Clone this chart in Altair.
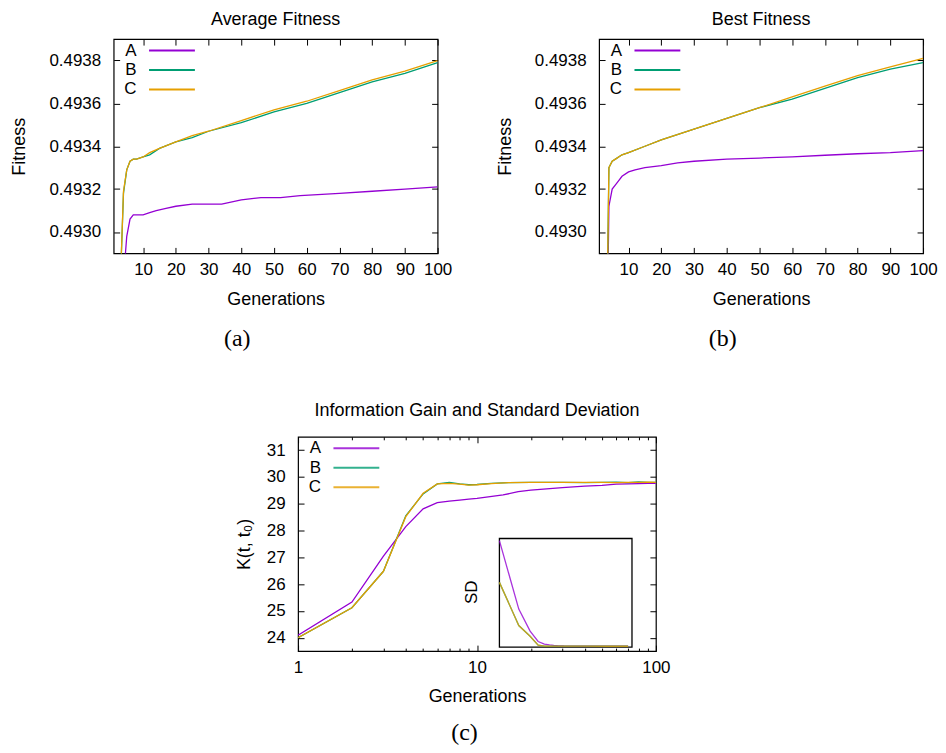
import altair as alt
import pandas as pd

FONT = "Liberation Sans"
SERIF = "Liberation Serif"
SERIES = ["A", "B", "C"]
COLORS = ["#9400d3", "#009e73", "#e69f00"]

# ---------------- (a) Average Fitness ----------------
avg_gen_A = [4, 5, 6, 7, 8, 10, 12, 14, 17, 20, 25, 30, 34, 40, 46, 52, 58, 70, 80, 90, 100]
avg_fit_A = [0.49278, 0.49298, 0.49306, 0.49308, 0.49308, 0.49308, 0.49309, 0.49310, 0.49311,
             0.49312, 0.49313, 0.49313, 0.49313, 0.49315, 0.49316, 0.49316, 0.49317, 0.49318,
             0.49319, 0.49320, 0.49321]
avg_gen_BC = [3, 4, 5, 6, 7, 8, 10, 12, 15, 20, 25, 30, 40, 50, 60, 70, 80, 90, 100]
avg_fit_B = [0.49274, 0.49318, 0.49329, 0.49333, 0.49334, 0.49334, 0.49335, 0.49336, 0.49339,
             0.49342, 0.49344, 0.49347, 0.49351, 0.49356, 0.49360, 0.49365, 0.49370, 0.49374,
             0.49379]
avg_fit_C = [0.49274, 0.49319, 0.49329, 0.49333, 0.49334, 0.49334, 0.49335, 0.49337, 0.49339,
             0.49342, 0.49345, 0.49347, 0.49352, 0.49357, 0.49361, 0.49366, 0.49371, 0.49375,
             0.49380]

# ---------------- (b) Best Fitness ----------------
best_gen_A = [3, 4, 5, 6, 7, 8, 10, 12, 15, 20, 25, 30, 40, 50, 60, 70, 80, 90, 100]
best_fit_A = [0.49200, 0.49312, 0.49320, 0.49322, 0.49324, 0.49326, 0.49328, 0.49329, 0.49330,
              0.49331, 0.493322, 0.49333, 0.49334, 0.493345, 0.49335, 0.493358, 0.493365, 0.49337,
              0.49338]
best_gen_BC = [3, 4, 5, 6, 8, 10, 15, 20, 30, 40, 50, 60, 70, 80, 90, 100]
best_fit_B = [0.49216, 0.49330, 0.49333, 0.49334, 0.49336, 0.49337, 0.49340, 0.49343, 0.49348,
              0.49353, 0.49358, 0.49362, 0.49367, 0.49372, 0.49376, 0.49379]
best_fit_C = [0.49216, 0.49330, 0.49333, 0.49334, 0.49336, 0.49337, 0.49340, 0.49343, 0.49348,
              0.49353, 0.49358, 0.49363, 0.49368, 0.49373, 0.49377, 0.49381]

# ---------------- (c) Information gain K(t, t0) ----------------
kl_gen_A = [1, 2, 3, 4, 5, 6, 7, 8, 9, 10, 14, 17, 20, 30, 40, 50, 60, 70, 80, 90, 100]
kl_A = [24.09, 25.33, 27.05, 28.15, 28.81, 29.04, 29.10, 29.14, 29.17, 29.20, 29.33, 29.45,
        29.51, 29.60, 29.66, 29.69, 29.73, 29.74, 29.75, 29.76, 29.76]
kl_gen_BC = [1, 2, 3, 4, 5, 6, 7, 8, 9, 10, 12, 15, 20, 30, 40, 50, 60, 70, 80, 90, 100]
kl_B = [24.00, 25.12, 26.48, 28.55, 29.37, 29.74, 29.80, 29.74, 29.71, 29.72, 29.76, 29.79,
        29.80, 29.80, 29.79, 29.80, 29.81, 29.79, 29.82, 29.80, 29.80]
kl_C = [24.00, 25.12, 26.48, 28.52, 29.39, 29.74, 29.76, 29.73, 29.70, 29.71, 29.75, 29.79,
        29.80, 29.80, 29.80, 29.80, 29.79, 29.80, 29.80, 29.81, 29.80]

# inset: standard deviation (relative units, no tick labels in the original)
sd_gen_A = [1, 2, 3, 4, 5, 6, 7, 8, 10, 20, 50, 100]
sd_A = [0.98, 0.35, 0.147, 0.052, 0.028, 0.020, 0.016, 0.014, 0.012, 0.010, 0.009, 0.009]
sd_gen_BC = [1, 2, 3, 4, 5, 6, 8, 10, 20, 50, 100]
sd_B = [0.596, 0.199, 0.100, 0.018, 0.010, 0.009, 0.009, 0.009, 0.009, 0.008, 0.008]
sd_C = [0.596, 0.199, 0.100, 0.018, 0.010, 0.009, 0.009, 0.009, 0.009, 0.008, 0.008]
sd_x_domain = [1, 115]
sd_y_domain = [0, 1]

fit_x_ticks = [10, 20, 30, 40, 50, 60, 70, 80, 90, 100]
fit_y_ticks = [0.4930, 0.4932, 0.4934, 0.4936, 0.4938]
kl_x_major = [1, 10, 100]
kl_x_minor = [2, 3, 4, 5, 6, 7, 8, 9, 20, 30, 40, 50, 60, 70, 80, 90]
kl_y_ticks = [24, 25, 26, 27, 28, 29, 30, 31]


def tidy(gens, vals):
    rows = []
    for s, g, v in zip(SERIES, gens, vals):
        for gi, vi in zip(g, v):
            rows.append({"series": s, "gen": gi, "val": vi})
    return pd.DataFrame(rows)


def axis(orient, values, tick=6, labels=True, title=None, fmt=None, pad=8, tpad=13):
    kw = dict(orient=orient, values=values, offset=-tick, tickSize=tick, tickColor="black",
              tickWidth=1, domain=False, grid=False, labels=labels, labelPadding=pad,
              labelOverlap=False, labelFlush=False, title=title, titlePadding=tpad)
    if fmt:
        kw["format"] = fmt
    return alt.Axis(**kw)


def legend():
    # a wide, flat custom stroke symbol keeps each legend row as tall as its label
    return alt.Legend(orient="none", legendX=50, legendY=3, title=None, direction="vertical",
                      symbolType="M-4.6,0H4.6", symbolSize=100, symbolStrokeWidth=2,
                      labelFont=FONT, labelFontSize=17, labelColor="black",
                      labelAlign="right", labelOffset={"expr": "-44"},
                      rowPadding=1.5, padding=0)


color = alt.Color("series:N", scale=alt.Scale(domain=SERIES, range=COLORS), legend=legend())


def caption(text, x, y):
    return alt.Chart(pd.DataFrame({"cap": [text]})).mark_text(
        font=SERIF, fontSize=24, align="center", baseline="alphabetic", color="black"
    ).encode(text="cap:N", x=alt.value(x), y=alt.value(y))


def title(text, offset):
    return alt.Title(text, anchor="middle", frame="group", offset=offset, font=FONT,
                     fontSize=18, fontWeight="normal", color="black")


def fitness_panel(df, ttl, cap):
    xs = alt.Scale(domain=[1, 100], nice=False, zero=False)
    ys = alt.Scale(domain=[0.4929, 0.4939], nice=False, zero=False)
    base = alt.Chart(df)
    main = base.mark_line(clip=True, strokeWidth=1.3).encode(
        x=alt.X("gen:Q", scale=xs, axis=axis("bottom", fit_x_ticks, title="Generations", fmt="d")),
        y=alt.Y("val:Q", scale=ys, axis=axis("left", fit_y_ticks, title="Fitness", fmt=".4f", pad=13, tpad=20)),
        color=color,
    )
    mirror = base.mark_line(clip=True, opacity=0).encode(
        x=alt.X("gen:Q", scale=xs, axis=axis("top", fit_x_ticks, labels=False)),
        y=alt.Y("val:Q", scale=ys, axis=axis("right", fit_y_ticks, labels=False)),
    )
    return alt.layer(main, mirror, caption(cap, 124, 308)).resolve_axis(
        x="independent", y="independent"
    ).properties(width=325, height=215, title=title(ttl, 10))


panel_a = fitness_panel(tidy([avg_gen_A, avg_gen_BC, avg_gen_BC], [avg_fit_A, avg_fit_B, avg_fit_C]),
                        "Average Fitness", "(a)")
panel_b = fitness_panel(tidy([best_gen_A, best_gen_BC, best_gen_BC], [best_fit_A, best_fit_B, best_fit_C]),
                        "Best Fitness", "(b)")

# ---------------- panel (c) ----------------
kl_df = tidy([kl_gen_A, kl_gen_BC, kl_gen_BC], [kl_A, kl_B, kl_C])
sd_df = tidy([sd_gen_A, sd_gen_BC, sd_gen_BC], [sd_A, sd_B, sd_C])

kx = alt.Scale(type="log", domain=[1, 100], nice=False)
ky = alt.Scale(domain=[23.5, 31.5], nice=False, zero=False)
kbase = alt.Chart(kl_df)
k_main = kbase.mark_line(clip=True, strokeWidth=1.3).encode(
    x=alt.X("gen:Q", scale=kx, axis=axis("bottom", kl_x_major, title="Generations", fmt="d")),
    y=alt.Y("val:Q", scale=ky, axis=axis("left", kl_y_ticks, title="K(t, t₀)", fmt="d", pad=13, tpad=13)),
    color=color,
)
k_minor_b = kbase.mark_line(clip=True, opacity=0).encode(
    x=alt.X("gen:Q", scale=kx, axis=axis("bottom", kl_x_minor, tick=3, labels=False)),
    y=alt.Y("val:Q", scale=ky, axis=None),
)
k_top = kbase.mark_line(clip=True, opacity=0).encode(
    x=alt.X("gen:Q", scale=kx, axis=axis("top", kl_x_major, labels=False)),
    y=alt.Y("val:Q", scale=ky, axis=axis("right", kl_y_ticks, labels=False)),
)
k_minor_t = kbase.mark_line(clip=True, opacity=0).encode(
    x=alt.X("gen:Q", scale=kx, axis=axis("top", kl_x_minor, tick=3, labels=False)),
    y=alt.Y("val:Q", scale=ky, axis=None),
)

ix = alt.Scale(type="log", domain=sd_x_domain, range=[202, 335], nice=False)
iy = alt.Scale(domain=sd_y_domain, range=[211, 102], nice=False, zero=False)
inset_box = alt.Chart(pd.DataFrame({"x0": [sd_x_domain[0]], "x1": [sd_x_domain[1]],
                                    "y0": [sd_y_domain[0]], "y1": [sd_y_domain[1]]})).mark_rect(
    fill="white", stroke="black", strokeWidth=1.3
).encode(
    x=alt.X("x0:Q", scale=ix, axis=None), x2="x1:Q",
    y=alt.Y("y0:Q", scale=iy, axis=None), y2="y1:Q",
)
inset_lines = alt.Chart(sd_df).mark_line(strokeWidth=1.3, opacity=0.8).encode(
    x=alt.X("gen:Q", scale=ix, axis=None),
    y=alt.Y("val:Q", scale=iy, axis=None),
    color=color,
)
sd_label = alt.Chart(pd.DataFrame({"t": ["SD"]})).mark_text(
    font=FONT, fontSize=17, angle=270, align="center", baseline="middle", color="black"
).encode(text="t:N", x=alt.value(175), y=alt.value(156))

panel_c = alt.layer(
    k_main, k_minor_b, k_top, k_minor_t, inset_box, inset_lines, sd_label, caption("(c)", 167, 304)
).resolve_scale(x="independent", y="independent").resolve_axis(
    x="independent", y="independent"
).properties(width=359, height=215, title=title("Information Gain and Standard Deviation", 16))

spacer = alt.Chart(pd.DataFrame({"s": [0]})).mark_point(opacity=0).properties(
    width=185, height=10, view=alt.ViewBackground(stroke="transparent")
)

top = alt.hconcat(panel_a, panel_b, spacing=162, bounds="flush").resolve_scale(color="independent")
bottom = alt.hconcat(spacer, panel_c, spacing=0, bounds="flush").resolve_scale(color="independent")

chart = alt.vconcat(top, bottom, spacing=49, bounds="full").resolve_scale(
    color="independent"
).properties(
    padding={"left": 2, "top": 0, "right": 0, "bottom": 0}, background="white"
).configure_view(
    stroke="black", strokeWidth=1.2
).configure_axis(
    labelFont=FONT, titleFont=FONT, labelFontSize=17, titleFontSize=18,
    titleFontWeight="normal", labelColor="black", titleColor="black"
)

chart.save("out.html", embed_options={"renderer": "svg", "actions": False})
